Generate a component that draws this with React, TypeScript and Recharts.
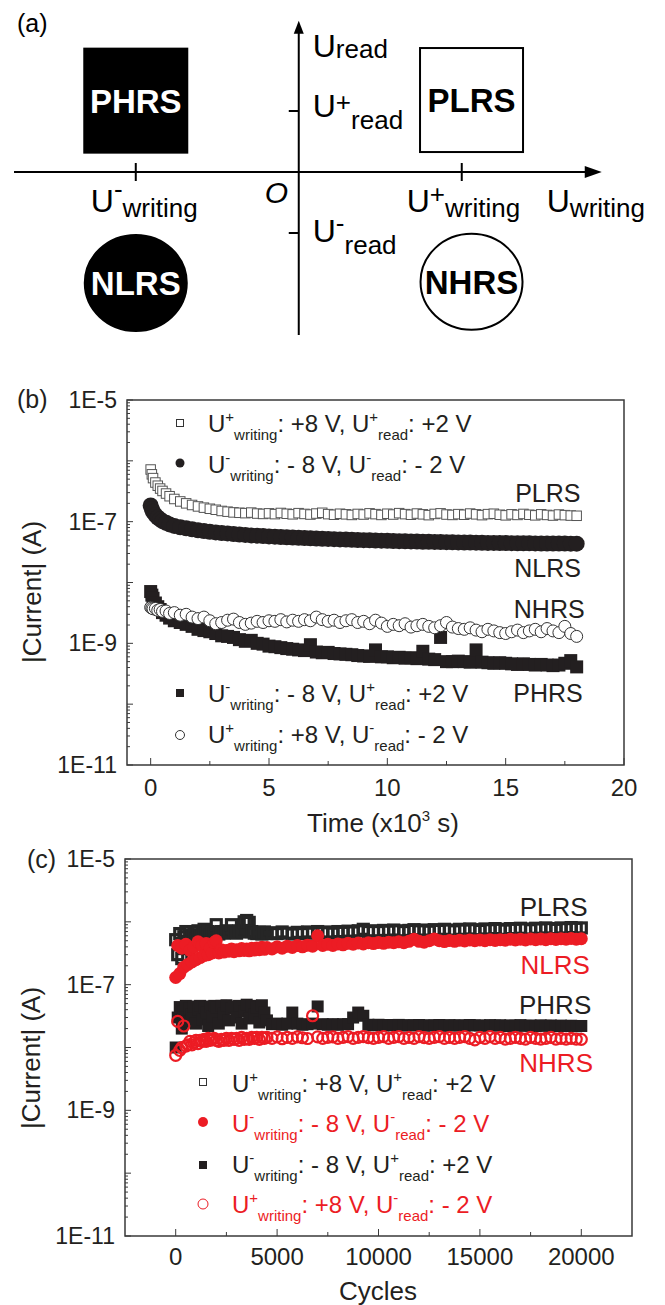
import React from 'react';
import {
  ScatterChart,
  Scatter,
  XAxis,
  YAxis,
  ReferenceArea,
  ReferenceDot,
  ReferenceLine,
  Customized,
} from 'recharts';

const FONT = '"Liberation Sans", Arial, Helvetica, sans-serif';
const INK = '#231f20';
const RED = '#ec1c24';
const FRAME = '#3a3a3a';
const W = 665;

// ---------- (a) schematic: states in (U_writing, U_read) space ----------
const writingLevels = [-1, 1]; // U-writing, U+writing
const readLevels = [1, -1]; // U+read, U-read
const stateNames = ['PHRS', 'PLRS', 'NLRS', 'NHRS'];
const stateWriting = [-1, 1.06, -1, 1.06];
const stateRead = [1.17, 1.18, -1.82, -1.8];

// ---------- (b) retention, time in 10^3 s, current in nA ----------
const timeB = [
  0, 0.05, 0.1, 0.2, 0.3, 0.4, 0.5, 0.65, 0.8, 1.0,
  1.25, 1.5, 1.75, 2.0, 2.25, 2.5, 2.75, 3.0, 3.25, 3.5,
  3.75, 4.0, 4.25, 4.5, 4.75, 5.0, 5.25, 5.5, 5.75, 6.0,
  6.25, 6.5, 6.75, 7.0, 7.25, 7.5, 7.75, 8.0, 8.25, 8.5,
  8.75, 9.0, 9.25, 9.5, 9.75, 10.0, 10.25, 10.5, 10.75, 11.0,
  11.25, 11.5, 11.75, 12.0, 12.25, 12.5, 12.75, 13.0, 13.25, 13.5,
  13.75, 14.0, 14.25, 14.5, 14.75, 15.0, 15.25, 15.5, 15.75, 16.0,
  16.25, 16.5, 16.75, 17.0, 17.25, 17.5, 17.75, 18.0,
];
const plrsB = [
  720, 600, 520, 440, 390, 350, 320, 290, 262, 236,
  215, 200, 188, 178, 170, 163, 157, 150, 146, 142,
  140, 138, 141, 136, 134, 137, 133, 139, 135, 132,
  138, 134, 131, 136, 140, 133, 130, 135, 132, 129,
  134, 131, 137, 133, 129, 135, 131, 138, 133, 130,
  136, 132, 128, 134, 137, 131, 129, 133, 130, 136,
  132, 128, 133, 135, 130, 127, 132, 129, 134, 130,
  127, 132, 129, 126, 131, 128, 126, 125,
];
const nlrsB = [
  185, 160, 145, 128, 117, 109, 102, 96, 90, 85,
  81, 78, 75, 72, 70, 68, 66.5, 65, 64, 62.5,
  61.5, 60.5, 59.5, 58.8, 58, 57.2, 56.6, 56, 55.4, 54.8,
  54.3, 53.8, 53.3, 52.8, 52.4, 52, 51.5, 51.1, 50.7, 50.3,
  50, 49.6, 49.3, 49, 48.7, 48.4, 48.1, 47.8, 47.6, 47.3,
  47.1, 46.8, 46.6, 46.4, 46.2, 46, 45.8, 45.6, 45.4, 45.3,
  45.1, 45, 44.8, 44.7, 44.6, 44.4, 44.3, 44.2, 44.1, 44,
  43.9, 43.8, 43.8, 43.7, 43.6, 43.6, 43.5, 43.5,
];
const phrsB = [
  7.1, 6.2, 5.5, 4.6, 4.0, 3.6, 3.2, 2.9, 2.6, 2.35,
  2.2, 2.05, 1.9, 1.7, 1.62, 1.55, 1.45, 1.33, 1.3, 1.25,
  1.15, 1.08, 1.12, 1.0, 0.97, 0.9, 0.88, 0.85, 0.82, 0.8,
  0.78, 0.76, 0.95, 0.72, 0.7, 0.71, 0.68, 0.67, 0.66, 0.65,
  0.63, 0.62, 0.61, 0.78, 0.6, 0.6, 0.58, 0.59, 0.57, 0.58,
  0.56, 0.74, 0.55, 0.54, 1.25, 0.5, 0.5, 0.51, 0.5, 0.49,
  0.78, 0.49, 0.48, 0.47, 0.48, 0.47, 0.46, 0.45, 0.46, 0.45,
  0.44, 0.45, 0.44, 0.43, 0.44, 0.47, 0.52, 0.41,
];
const nhrsB = [
  3.9, 3.8, 3.7, 3.75, 3.5, 3.6, 3.35, 3.4, 3.1, 3.2,
  2.9, 3.0, 2.7, 2.55, 2.7, 2.35, 2.1, 2.2, 2.4, 2.5,
  2.2, 2.05, 2.15, 2.3, 2.2, 2.35, 2.3, 2.45, 2.25, 2.4,
  2.3, 2.45, 2.35, 2.7, 2.45, 2.3, 2.4, 2.2, 2.35, 2.45,
  2.2, 2.3, 2.1, 2.4, 2.15, 1.9, 2.05, 1.95, 2.1, 1.85,
  1.95, 2.05, 1.9, 1.8, 1.95, 2.2, 1.85, 1.75, 1.7, 1.8,
  1.65, 1.55, 1.7, 1.6, 1.5, 1.45, 1.55, 1.65, 1.5, 1.6,
  1.7, 1.55, 1.75, 1.6, 1.5, 1.9, 1.45, 1.3,
];

// ---------- (c) endurance, cycles, current in nA ----------
const cyclesC = [
  // 0 - 2000
  0, 100, 200, 300, 400, 500, 600, 700, 800, 900, 1000,
  1100, 1200, 1300, 1400, 1500, 1600, 1700, 1800, 1900, 2000,
  // 2125 - 4500
  2125, 2250, 2375, 2500, 2625, 2750, 2875, 3000, 3125, 3250,
  3375, 3500, 3625, 3750, 3875, 4000, 4125, 4250, 4375, 4500,
  // 4750 - 20000
  4750, 5000, 5250, 5500, 5750, 6000, 6250, 6500,
  6750, 7000, 7250, 7500, 7750, 8000, 8250, 8500,
  8750, 9000, 9250, 9500, 9750, 10000, 10250, 10500,
  10750, 11000, 11250, 11500, 11750, 12000, 12250, 12500,
  12750, 13000, 13250, 13500, 13750, 14000, 14250, 14500,
  14750, 15000, 15250, 15500, 15750, 16000, 16250, 16500,
  16750, 17000, 17250, 17500, 17750, 18000, 18250, 18500,
  18750, 19000, 19250, 19500, 19750, 20000,
];
const plrsC = [
  520, 300, 650, 260, 580, 700, 480, 620, 560, 690, 540,
  720, 600, 650, 760, 640, 700, 620, 680, 640, 900,
  640, 700, 660, 720, 680, 900, 700, 660, 720, 690,
  1000, 1050, 980, 700, 660, 650, 680, 640, 690, 650,
  670, 650, 690, 660, 640, 680, 650, 690,
  660, 700, 670, 690, 660, 700, 680, 710,
  690, 720, 760, 700, 720, 700, 730, 710,
  740, 720, 700, 730, 750, 720, 740, 710,
  750, 730, 760, 740, 720, 760, 740, 770,
  750, 730, 770, 750, 780, 760, 740, 780,
  760, 790, 770, 750, 790, 770, 800, 780,
  760, 800, 780, 810, 790, 800,
];
const nlrsC = [
  130, 420, 150, 380, 190, 440, 210, 350, 230, 400, 250,
  480, 270, 420, 290, 450, 300, 380, 320, 470, 500,
  320, 360, 330, 350, 340, 370, 335, 360, 345, 375,
  350, 370, 345, 380, 355, 385, 360, 395, 365, 390,
  370, 400, 380, 410, 390, 420, 400, 425,
  410, 600, 420, 440, 420, 445, 430, 455,
  440, 460, 445, 465, 450, 470, 455, 475,
  465, 480, 465, 490, 530, 490, 475, 500,
  535, 500, 485, 505, 490, 510, 495, 515,
  500, 515, 500, 520, 505, 520, 510, 530,
  515, 530, 515, 535, 520, 535, 520, 540,
  525, 540, 530, 545, 530, 540,
];
const phrsC = [
  10, 30, 44, 20, 38, 46, 26, 42, 33, 45, 24,
  40, 46, 28, 44, 36, 22, 45, 31, 46, 43,
  24, 46, 35, 47, 27, 42, 45, 30, 46, 24,
  38, 48, 29, 46, 34, 44, 25, 47, 36, 27,
  23.5, 24, 23, 24, 36, 24, 23, 23.5,
  24, 45, 23.5, 23, 23.5, 23, 23.5, 23.5,
  30, 36, 32, 23, 22.5, 23, 22.4, 22.8,
  22.5, 22.9, 22.3, 22.7, 22.4, 22.8, 22.2, 22.6,
  22.4, 22.8, 22.1, 22.7, 22.3, 22.6, 22.2, 22.8,
  22.4, 22.5, 22.1, 22.7, 22.3, 22.6, 22.0, 22.5,
  22.2, 22.7, 22.1, 22.4, 22.0, 22.5, 22.1, 22.4,
  21.9, 22.3, 22.0, 22.2, 21.8, 22,
];
const nhrsC = [
  7.5, 26, 9, 10, 22, 10.5, 11, 12.5, 11, 12, 13,
  11.5, 13, 12.5, 13.5, 12.5, 14, 13, 13.5, 14, 13,
  12.5, 13.5, 13, 14, 13, 14, 13.5, 14, 13, 14.5,
  13.5, 14, 13.5, 14.5, 14, 14.5, 13.5, 14.5, 14, 14.5,
  14, 14.8, 13.8, 14.5, 14, 14.8, 14.3, 13.9,
  32, 14.8, 14, 14.5, 14.8, 14, 14.5, 14.9,
  14, 14.5, 14.9, 14.4, 14, 14.5, 14.9, 14,
  14.5, 14.9, 14, 14.5, 14, 14.9, 14.4, 14,
  14.5, 14.9, 14, 14.5, 14, 14.5, 14.9, 14,
  13.2, 14.5, 14, 14.9, 14, 14.5, 13.6, 14,
  14.5, 14, 13.6, 14.5, 14, 13.6, 14, 14.5,
  13.6, 14, 13.6, 14, 13.6, 13.5,
];

// ---------- axes ----------
const timeTicks = [0, 2.5, 5, 7.5, 10, 12.5, 15, 17.5, 20];
const timeMajors = [0, 5, 10, 15, 20];
const cycleTicks = [0, 2500, 5000, 7500, 10000, 12500, 15000, 17500, 20000];
const cycleMajors = [0, 5000, 10000, 15000, 20000];
const logTicks: number[] = [];
for (let e = -11; e <= -5; e++) {
  for (let m = 1; m <= 9; m++) {
    if (e === -5 && m > 1) break;
    logTicks.push(m * Math.pow(10, e));
  }
}

// legend text: [U_writing sign, writing value, U_read sign, read value]
const legendText = [
  ['+', '+8 V', '+', '+2 V'],
  ['-', '- 8 V', '-', '- 2 V'],
  ['-', '- 8 V', '+', '+2 V'],
  ['+', '+8 V', '-', '- 2 V'],
];

// state labels placed at the right of panels (b) and (c)
const annB = { t: ['PLRS', 'NLRS', 'NHRS', 'PHRS'], x: [16.78, 16.77, 16.84, 16.79], y: [2.13e-7, 1.22e-8, 2.58e-9, 1.07e-10] };
const annC = { t: ['PLRS', 'NLRS', 'PHRS', 'NHRS'], x: [18640, 18710, 18710, 18760], y: [1.24e-6, 1.48e-7, 3.41e-8, 4.07e-9] };

const toPoints = (xs: number[], ys: number[]) => xs.map((x, i) => ({ x, y: ys[i] * 1e-9 }));

type Part = { t: string; size: number; shift?: number };

function Rich({ x, y, parts, fill = INK, anchor = 'start', weight, italic }: any) {
  let prev = 0;
  return (
    <text x={x} y={y} fill={fill} textAnchor={anchor} fontWeight={weight} fontStyle={italic ? 'italic' : undefined} fontFamily={FONT}>
      {parts.map((p: Part, i: number) => {
        const s = p.shift || 0;
        const dy = s - prev;
        prev = s;
        return (
          <tspan key={i} dy={dy} fontSize={p.size}>
            {p.t}
          </tspan>
        );
      })}
    </text>
  );
}

const uParts = (ws: string, wv: string, rs: string, rv: string): Part[] => [
  { t: 'U', size: 24 },
  { t: ws, size: 15, shift: -10 },
  { t: 'writing', size: 15, shift: 8 },
  { t: `: ${wv}, U`, size: 24, shift: 0 },
  { t: rs, size: 15, shift: -10 },
  { t: 'read', size: 15, shift: 8 },
  { t: `: ${rv}`, size: 24, shift: 0 },
];

// marker shapes
const sq = (size: number, fill: string, stroke = 'none', sw = 1) => (p: any) => (
  <rect x={p.cx - size / 2} y={p.cy - size / 2} width={size} height={size} fill={fill} stroke={stroke} strokeWidth={sw} />
);
const dot = (r: number, fill: string, stroke = 'none', sw = 1) => (p: any) => (
  <circle cx={p.cx} cy={p.cy} r={r} fill={fill} stroke={stroke} strokeWidth={sw} />
);

// tick renderers (inward ticks, labels only on major ones)
const leftTick = (plotLeft: number) => (props: any) => {
  const { y, payload } = props;
  const v = payload.value;
  const e = Math.floor(Math.log10(v) + 1e-6);
  const m = Math.round(v / Math.pow(10, e));
  const major = m === 1;
  return (
    <g>
      <line x1={plotLeft} x2={plotLeft + (major ? 6 : 3)} y1={y} y2={y} stroke={FRAME} strokeWidth={1} />
      {major && e % 2 !== 0 && (
        <text x={plotLeft - 10} y={y} dy={8} textAnchor="end" fontSize={23} fill={INK} fontFamily={FONT}>
          {`1E${e}`}
        </text>
      )}
    </g>
  );
};
const bottomTick = (plotBottom: number, majors: number[], gap: number) => (props: any) => {
  const { x, payload } = props;
  const major = majors.includes(payload.value);
  return (
    <g>
      <line x1={x} x2={x} y1={plotBottom} y2={plotBottom - (major ? 7 : 4)} stroke={FRAME} strokeWidth={1} />
      {major && (
        <text x={x} y={plotBottom + gap} textAnchor="middle" fontSize={24} fill={INK} fontFamily={FONT}>
          {payload.value}
        </text>
      )}
    </g>
  );
};
const topTick = (plotTop: number, majors: number[]) => (props: any) => {
  const { x, payload } = props;
  const major = majors.includes(payload.value);
  return <line x1={x} x2={x} y1={plotTop} y2={plotTop + (major ? 6 : 4)} stroke={FRAME} strokeWidth={1} />;
};

// ---------- panel (a) ----------
const arrowRight = (p: any) => (
  <polygon points={`${p.cx},${p.cy} ${p.cx - 17},${p.cy - 6} ${p.cx - 17},${p.cy + 6}`} fill="#000" />
);
const arrowUp = (p: any) => (
  <polygon points={`${p.cx},${p.cy} ${p.cx - 5},${p.cy + 13} ${p.cx + 5},${p.cy + 13}`} fill="#000" />
);

const axisLabelsA = [
  { at: [0, 2.48], dx: 14, dy: 36, parts: [{ t: 'U', size: 32 }, { t: 'read', size: 26, shift: 1 }] },
  { at: [0, 1], dx: 14, dy: 6, parts: [{ t: 'U', size: 32 }, { t: '+', size: 26, shift: -6 }, { t: 'read', size: 26, shift: 12 }] },
  { at: [0, -1], dx: 14, dy: 9, parts: [{ t: 'U', size: 32 }, { t: '-', size: 26, shift: -10 }, { t: 'read', size: 26, shift: 12 }] },
  { at: [-1, 0], dx: -45, dy: 40, parts: [{ t: 'U', size: 32 }, { t: '-', size: 26, shift: -14 }, { t: 'writing', size: 26, shift: 5 }] },
  { at: [1, 0], dx: -55, dy: 40, parts: [{ t: 'U', size: 32 }, { t: '+', size: 26, shift: -9 }, { t: 'writing', size: 26, shift: 5 }] },
  { at: [1.859, 0], dx: -55, dy: 40, parts: [{ t: 'U', size: 32 }, { t: 'writing', size: 26, shift: 5 }] },
];

const stateShape = (i: number) => (p: any) => {
  const filled = i === 0 || i === 2;
  const square = i < 2;
  return (
    <g>
      {square ? (
        <rect x={p.cx - 51.5} y={p.cy - 52} width={103} height={104} fill={filled ? '#000' : '#fff'} stroke="#000" strokeWidth={2} />
      ) : (
        <ellipse cx={p.cx} cy={p.cy} rx={51} ry={48} fill={filled ? '#000' : '#fff'} stroke="#000" strokeWidth={2} />
      )}
      <text x={p.cx} y={p.cy + 12} textAnchor="middle" fontWeight="bold" fontSize={33} fill={filled ? '#fff' : '#000'} fontFamily={FONT}>
        {stateNames[i]}
      </text>
    </g>
  );
};

function PanelA() {
  return (
    <ScatterChart width={W} height={345} margin={{ top: 0, right: 0, bottom: 0, left: 0 }}>
      <XAxis hide type="number" dataKey="x" domain={[-1.833, 2.247]} allowDataOverflow />
      <YAxis hide type="number" dataKey="y" domain={[-2.836, 2.82]} allowDataOverflow />
      <ReferenceLine segment={[{ x: -1.747, y: 0 }, { x: 1.78, y: 0 }]} stroke="#000" strokeWidth={2} />
      <ReferenceLine segment={[{ x: 0, y: -2.672 }, { x: 0, y: 2.3 }]} stroke="#000" strokeWidth={2} />
      <Scatter data={[{ x: 1.859, y: 0 }]} shape={arrowRight} isAnimationActive={false} />
      <Scatter data={[{ x: 0, y: 2.48 }]} shape={arrowUp} isAnimationActive={false} />
      {writingLevels.map((w) => (
        <ReferenceDot key={`w${w}`} x={w} y={0} r={0} shape={(p: any) => <line x1={p.cx} x2={p.cx} y1={p.cy - 9} y2={p.cy + 9} stroke="#000" strokeWidth={2} />} />
      ))}
      {readLevels.map((r) => (
        <ReferenceDot key={`r${r}`} x={0} y={r} r={0} shape={(p: any) => <line x1={p.cx - 10} x2={p.cx} y1={p.cy} y2={p.cy} stroke="#000" strokeWidth={2} />} />
      ))}
      {stateNames.map((n, i) => (
        <Scatter key={n} data={[{ x: stateWriting[i], y: stateRead[i] }]} shape={stateShape(i)} isAnimationActive={false} />
      ))}
      {axisLabelsA.map((l, i) => (
        <ReferenceDot key={`l${i}`} x={l.at[0]} y={l.at[1]} r={0} shape={(p: any) => <Rich x={p.cx + l.dx} y={p.cy + l.dy} parts={l.parts} fill="#000" />} />
      ))}
      <ReferenceDot x={0} y={0} r={0} shape={(p: any) => <Rich x={p.cx - 34} y={p.cy + 31} parts={[{ t: 'O', size: 30 }]} fill="#000" italic />} />
      <Customized component={() => <Rich x={17} y={32} parts={[{ t: '(a)', size: 25 }]} fill="#000" />} />
    </ScatterChart>
  );
}

// ---------- panel (b) ----------
const markersB = [sq(7, '#fff', '#333'), dot(4.5, INK), sq(8, INK), dot(4.5, '#fff', '#333')];
const shapesB = [sq(9.5, '#fff', '#555'), dot(8, INK), sq(13, INK), dot(6, '#fff', '#333')];
const seriesB = [plrsB, nlrsB, phrsB, nhrsB];

function PanelB() {
  const L = 127;
  const T = 20;
  const B = 385;
  const rowsY = [52, 93, 322, 363];
  const markY = [43, 83, 313, 355];
  return (
    <ScatterChart width={W} height={460} margin={{ top: T, right: 41, bottom: 35, left: L - 80 }}>
      <XAxis type="number" dataKey="x" domain={[-1, 20]} ticks={timeTicks} interval={0} height={40} axisLine={false} tickLine={false} tick={bottomTick(B, timeMajors, 31)} allowDataOverflow />
      <XAxis xAxisId="top" orientation="top" type="number" dataKey="x" domain={[-1, 20]} ticks={timeTicks} interval={0} height={0} axisLine={false} tickLine={false} tick={topTick(T, timeMajors)} allowDataOverflow />
      <YAxis type="number" dataKey="y" scale="log" domain={[1e-11, 1e-5]} ticks={logTicks} interval={0} width={80} axisLine={false} tickLine={false} tick={leftTick(L)} allowDataOverflow />
      <ReferenceArea x1={-1} x2={20} y1={1e-11} y2={1e-5} fill="none" stroke={FRAME} strokeWidth={1.5} />
      {seriesB.map((s, i) => (
        <Scatter key={i} data={toPoints(timeB, s)} shape={shapesB[i]} isAnimationActive={false} />
      ))}
      {annB.t.map((t, i) => (
        <ReferenceDot key={t} x={annB.x[i]} y={annB.y[i]} r={0} shape={(p: any) => (
          <text x={p.cx} y={p.cy} textAnchor="middle" fontSize={25} fill={INK} fontFamily={FONT}>{t}</text>
        )} />
      ))}
      <Customized
        component={() => (
          <g>
            <Rich x={17} y={28} parts={[{ t: '(b)', size: 25 }]} />
            <text transform="translate(41, 212) rotate(-90)" textAnchor="middle" fontSize={26} fill={INK} fontFamily={FONT}>
              |Current| (A)
            </text>
            <Rich x={383} y={452} anchor="middle" parts={[{ t: 'Time (x10', size: 26 }, { t: '3', size: 15, shift: -11 }, { t: ' s)', size: 26, shift: 0 }]} />
            {legendText.map((lt, i) => (
              <g key={i}>
                {markersB[i]({ cx: 180, cy: markY[i] })}
                <Rich x={208} y={rowsY[i]} parts={uParts(lt[0], lt[1], lt[2], lt[3])} />
              </g>
            ))}
          </g>
        )}
      />
    </ScatterChart>
  );
}

// ---------- panel (c) ----------
const markersC = [sq(7, '#fff', '#333'), dot(5, RED), sq(8, INK), dot(5, '#fff', RED)];
const shapesC = [sq(10, 'none', '#262626', 3.2), dot(6.5, RED), sq(12, INK), dot(5.5, 'none', RED, 2.2)];
const seriesC = [plrsC, nlrsC, phrsC, nhrsC];
const colorsC = [INK, RED, INK, RED];

function PanelC() {
  const L = 125;
  const T = 19;
  const B = 396;
  const rowsY = [252, 292, 333, 373];
  const markY = [242, 282, 325, 364];
  return (
    <ScatterChart width={W} height={465} margin={{ top: T, right: 33, bottom: 29, left: L - 80 }}>
      <XAxis type="number" dataKey="x" domain={[-2500, 22500]} ticks={cycleTicks} interval={0} height={40} axisLine={false} tickLine={false} tick={bottomTick(B, cycleMajors, 29)} allowDataOverflow />
      <XAxis xAxisId="top" orientation="top" type="number" dataKey="x" domain={[-2500, 22500]} ticks={cycleTicks} interval={0} height={0} axisLine={false} tickLine={false} tick={topTick(T, cycleMajors)} allowDataOverflow />
      <YAxis type="number" dataKey="y" scale="log" domain={[1e-11, 1e-5]} ticks={logTicks} interval={0} width={80} axisLine={false} tickLine={false} tick={leftTick(L)} allowDataOverflow />
      <ReferenceArea x1={-2500} x2={22500} y1={1e-11} y2={1e-5} fill="none" stroke={FRAME} strokeWidth={1.5} />
      {seriesC.map((s, i) => (
        <Scatter key={i} data={toPoints(cyclesC, s)} shape={shapesC[i]} isAnimationActive={false} />
      ))}
      {annC.t.map((t, i) => (
        <ReferenceDot key={t} x={annC.x[i]} y={annC.y[i]} r={0} shape={(p: any) => (
          <text x={p.cx} y={p.cy} textAnchor="middle" fontSize={26} fill={colorsC[i]} fontFamily={FONT}>{t}</text>
        )} />
      ))}
      <Customized
        component={() => (
          <g>
            <Rich x={27} y={28} parts={[{ t: '(c)', size: 25 }]} />
            <text transform="translate(40, 218) rotate(-90)" textAnchor="middle" fontSize={26} fill={INK} fontFamily={FONT}>
              |Current| (A)
            </text>
            <Rich x={378} y={460} anchor="middle" parts={[{ t: 'Cycles', size: 26 }]} />
            {legendText.map((lt, i) => (
              <g key={i}>
                {markersC[i]({ cx: 203, cy: markY[i] })}
                <Rich x={232} y={rowsY[i]} fill={colorsC[i]} parts={uParts(lt[0], lt[1], lt[2], lt[3])} />
              </g>
            ))}
          </g>
        )}
      />
    </ScatterChart>
  );
}

export default function App() {
  return (
    <div style={{ position: 'absolute', left: 0, top: 0, width: W, height: 1305, background: '#fff', fontFamily: FONT }}>
      <div style={{ position: 'absolute', left: 0, top: 0 }}>
        <PanelA />
      </div>
      <div style={{ position: 'absolute', left: 0, top: 380 }}>
        <PanelB />
      </div>
      <div style={{ position: 'absolute', left: 0, top: 840 }}>
        <PanelC />
      </div>
    </div>
  );
}
